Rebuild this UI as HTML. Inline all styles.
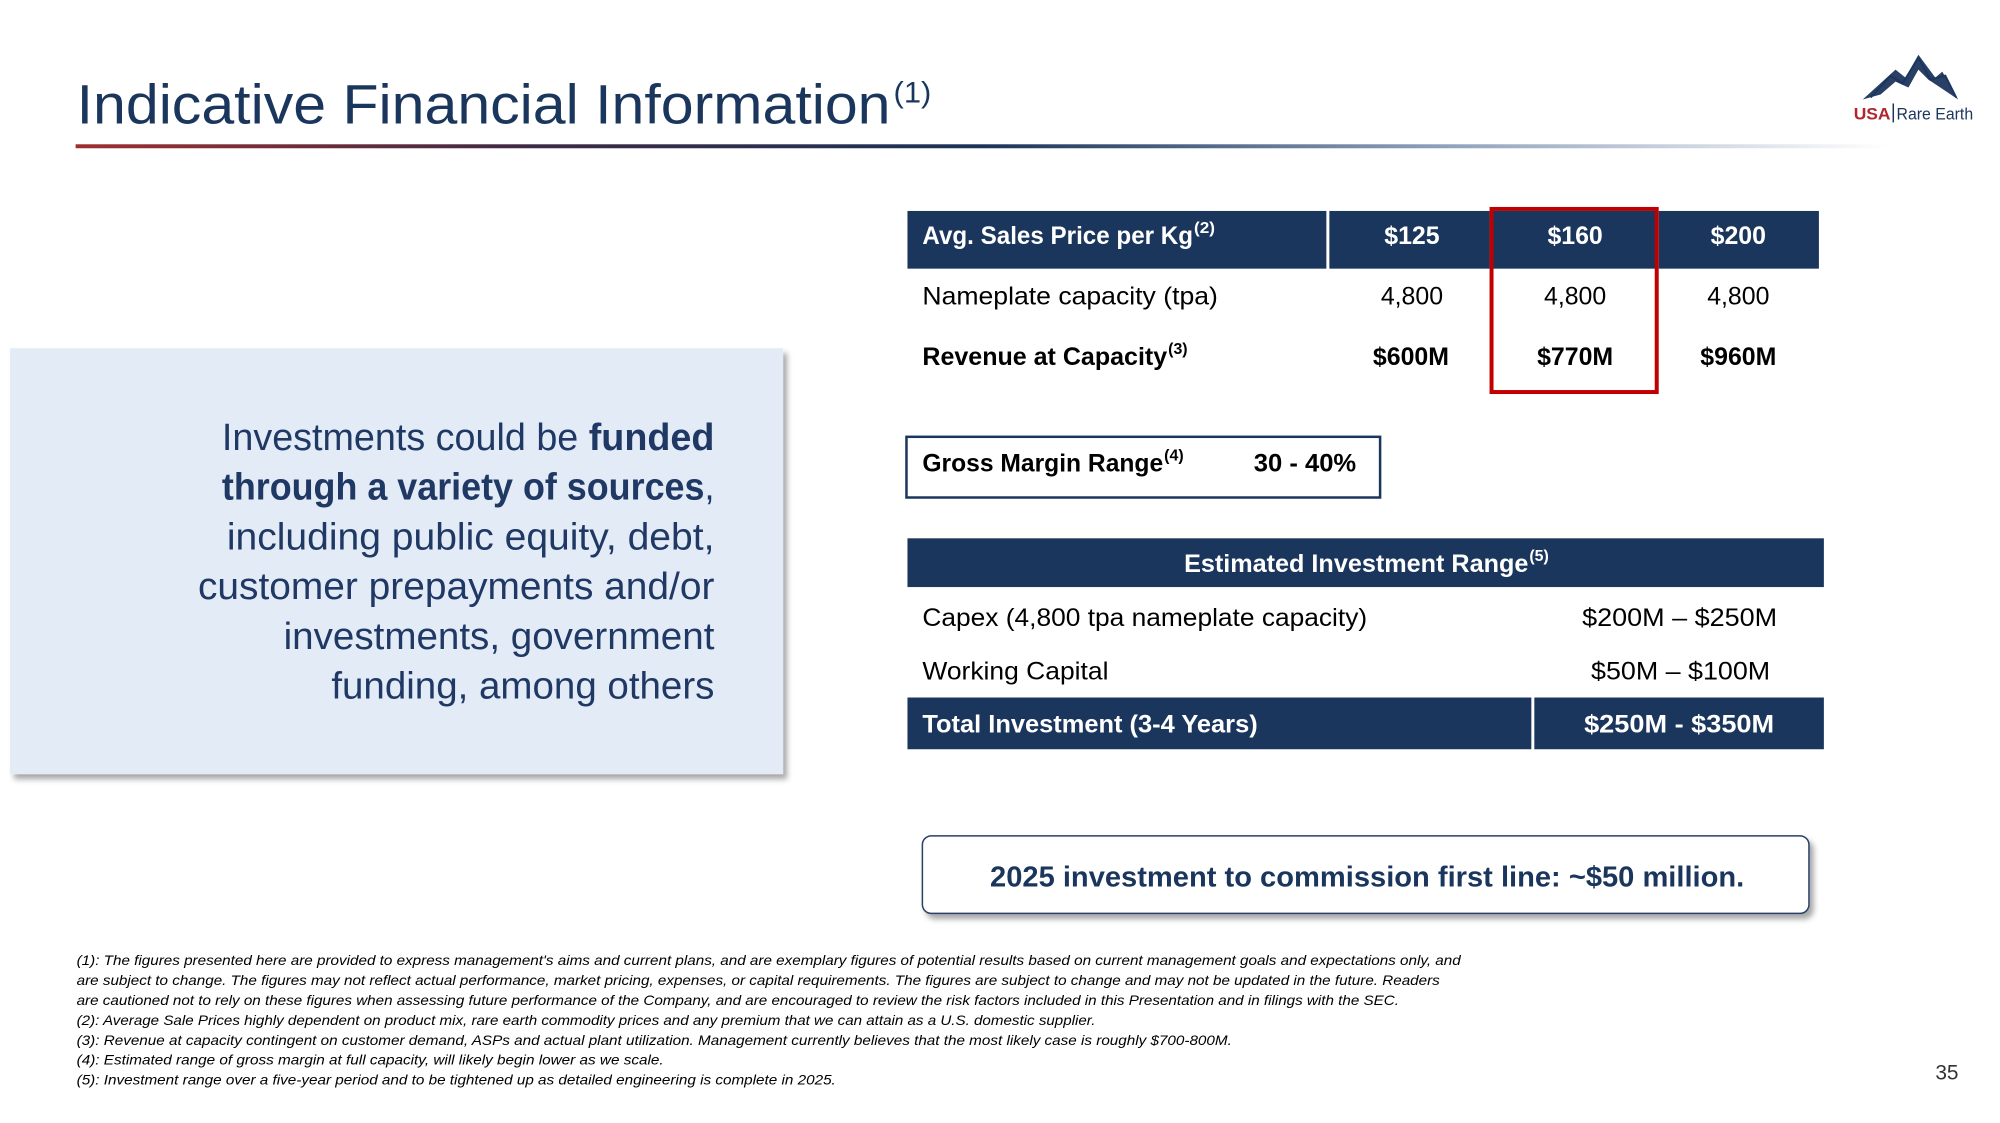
<!DOCTYPE html>
<html><head><meta charset="utf-8">
<style>
html,body{margin:0;padding:0;background:#fff;}
svg{display:block;font-family:"Liberation Sans",sans-serif;}
</style></head>
<body>
<svg width="2000" height="1123" viewBox="0 0 2010 1128.6" preserveAspectRatio="xMinYMin meet" xmlns="http://www.w3.org/2000/svg">
<defs>
<linearGradient id="rule" x1="0" x2="1" y1="0" y2="0">
<stop offset="0" stop-color="#9e2f30"/>
<stop offset="0.25" stop-color="#3d2a45"/>
<stop offset="0.5" stop-color="#1b3358"/>
<stop offset="0.75" stop-color="#8c9fba"/>
<stop offset="1" stop-color="#ffffff"/>
</linearGradient>
<filter id="sh" x="-5%" y="-5%" width="115%" height="120%"><feDropShadow dx="4" dy="5" stdDeviation="3" flood-color="#000" flood-opacity="0.35"/></filter>
</defs>

<text x="77" y="124" font-size="56" fill="#1b365d" textLength="818" lengthAdjust="spacingAndGlyphs">Indicative Financial Information</text>
<text x="898" y="103" font-size="30" fill="#1b365d" textLength="38" lengthAdjust="spacingAndGlyphs">(1)</text>
<rect x="76" y="145" width="1821" height="4" fill="url(#rule)"/>

<g>
<polygon points="1872,100 1905,70 1915,78 1928,55 1945,78 1952,72 1968,100 1950,88 1938,80 1928,70 1918,88 1905,82 1890,95" fill="#2a3f66"/>
<polyline points="1880,98 1900,76 1912,84 1928,58 1940,80 1955,76 1966,98" fill="none" stroke="#1b365d" stroke-width="2"/>
<text x="1863" y="120" font-size="17" font-weight="bold" fill="#b0262b" textLength="37" lengthAdjust="spacingAndGlyphs">USA</text>
<rect x="1902" y="104" width="1.5" height="19" fill="#1b365d"/>
<text x="1906" y="120" font-size="17" fill="#1b365d" textLength="77" lengthAdjust="spacingAndGlyphs">Rare Earth</text>
</g>

<g>
<rect x="10" y="350" width="777" height="428" fill="#e3ebf7" filter="url(#sh)"/>
<g font-size="38" fill="#1f3864" text-anchor="end">
<text x="718" y="452" textLength="495" lengthAdjust="spacingAndGlyphs">Investments could be <tspan font-weight="bold">funded</tspan></text>
<text x="718" y="502" textLength="495" lengthAdjust="spacingAndGlyphs"><tspan font-weight="bold">through a variety of sources</tspan>,</text>
<text x="718" y="552" textLength="490" lengthAdjust="spacingAndGlyphs">including public equity, debt,</text>
<text x="718" y="602" textLength="519" lengthAdjust="spacingAndGlyphs">customer prepayments and/or</text>
<text x="718" y="652" textLength="433" lengthAdjust="spacingAndGlyphs">investments, government</text>
<text x="718" y="702" textLength="385" lengthAdjust="spacingAndGlyphs">funding, among others</text>
</g>
</g>

<g>
<rect x="912" y="212" width="421" height="58" fill="#1b365d"/>
<rect x="1336" y="212" width="161" height="58" fill="#1b365d"/>
<rect x="1500" y="212" width="164" height="58" fill="#1b365d"/>
<rect x="1667" y="212" width="161" height="58" fill="#1b365d"/>
<g font-size="25" font-weight="bold" fill="#fff">
<text x="927" y="245" textLength="272" lengthAdjust="spacingAndGlyphs">Avg. Sales Price per Kg</text>
<text x="1200" y="234" font-size="16" textLength="21" lengthAdjust="spacingAndGlyphs">(2)</text>
<g text-anchor="middle">
<text x="1419" y="245">$125</text><text x="1583" y="245">$160</text><text x="1747" y="245">$200</text>
</g>
</g>
<g font-size="25" fill="#000">
<text x="927" y="306" textLength="297" lengthAdjust="spacingAndGlyphs">Nameplate capacity (tpa)</text>
<g text-anchor="middle"><text x="1419" y="306">4,800</text><text x="1583" y="306">4,800</text><text x="1747" y="306">4,800</text></g>
<text x="927" y="367" font-weight="bold" textLength="246" lengthAdjust="spacingAndGlyphs">Revenue at Capacity</text>
<text x="1174" y="356" font-size="16" font-weight="bold">(3)</text>
<g text-anchor="middle" font-weight="bold"><text x="1418" y="367">$600M</text><text x="1583" y="367">$770M</text><text x="1747" y="367">$960M</text></g>
</g>
<rect x="1499" y="210" width="166" height="184" fill="none" stroke="#c00000" stroke-width="4"/>
</g>

<g>
<rect x="911" y="439" width="476" height="61" fill="#fff" stroke="#1b365d" stroke-width="2.5"/>
<text x="927" y="474" font-size="25" font-weight="bold" textLength="242" lengthAdjust="spacingAndGlyphs">Gross Margin Range</text>
<text x="1170" y="463" font-size="16" font-weight="bold">(4)</text>
<text x="1260" y="474" font-size="25" font-weight="bold" textLength="103" lengthAdjust="spacingAndGlyphs">30 - 40%</text>
</g>

<g>
<rect x="912" y="541" width="921" height="49" fill="#1b365d"/>
<text x="1190" y="575" font-size="25" font-weight="bold" fill="#fff" textLength="346" lengthAdjust="spacingAndGlyphs">Estimated Investment Range</text>
<text x="1537" y="564" font-size="16" font-weight="bold" fill="#fff">(5)</text>
<g font-size="25" fill="#000">
<text x="927" y="629" textLength="447" lengthAdjust="spacingAndGlyphs">Capex (4,800 tpa nameplate capacity)</text>
<text x="1590" y="629" textLength="196" lengthAdjust="spacingAndGlyphs">$200M – $250M</text>
<text x="927" y="683" textLength="187" lengthAdjust="spacingAndGlyphs">Working Capital</text>
<text x="1599" y="683" textLength="180" lengthAdjust="spacingAndGlyphs">$50M – $100M</text>
</g>
<rect x="912" y="701" width="627" height="52" fill="#1b365d"/>
<rect x="1542" y="701" width="291" height="52" fill="#1b365d"/>
<text x="927" y="736" font-size="25" font-weight="bold" fill="#fff" textLength="337" lengthAdjust="spacingAndGlyphs">Total Investment (3-4 Years)</text>
<text x="1592" y="736" font-size="25" font-weight="bold" fill="#fff" textLength="191" lengthAdjust="spacingAndGlyphs">$250M - $350M</text>
</g>

<g>
<rect x="927" y="840" width="891" height="78" rx="9" fill="#fff" stroke="#2a3f66" stroke-width="1.5" filter="url(#sh)"/>
<text x="995" y="891" font-size="29" font-weight="bold" fill="#1b365d" textLength="758" lengthAdjust="spacingAndGlyphs">2025 investment to commission first line: ~$50 million.</text>
</g>

<g font-size="14" font-style="italic" fill="#000">
<text x="77" y="970" textLength="1391" lengthAdjust="spacingAndGlyphs">(1): The figures presented here are provided to express management's aims and current plans, and are exemplary figures of potential results based on current management goals and expectations only, and</text>
<text x="77" y="990" textLength="1370" lengthAdjust="spacingAndGlyphs">are subject to change. The figures may not reflect actual performance, market pricing, expenses, or capital requirements. The figures are subject to change and may not be updated in the future. Readers</text>
<text x="77" y="1010" textLength="1329" lengthAdjust="spacingAndGlyphs">are cautioned not to rely on these figures when assessing future performance of the Company, and are encouraged to review the risk factors included in this Presentation and in filings with the SEC.</text>
<text x="77" y="1030" textLength="1024" lengthAdjust="spacingAndGlyphs">(2): Average Sale Prices highly dependent on product mix, rare earth commodity prices and any premium that we can attain as a U.S. domestic supplier.</text>
<text x="77" y="1050" textLength="1161" lengthAdjust="spacingAndGlyphs">(3): Revenue at capacity contingent on customer demand, ASPs and actual plant utilization. Management currently believes that the most likely case is roughly $700-800M.</text>
<text x="77" y="1070" textLength="590" lengthAdjust="spacingAndGlyphs">(4): Estimated range of gross margin at full capacity, will likely begin lower as we scale.</text>
<text x="77" y="1090" textLength="763" lengthAdjust="spacingAndGlyphs">(5): Investment range over a five-year period and to be tightened up as detailed engineering is complete in 2025.</text>
</g>
<text x="1945" y="1085" font-size="21" fill="#333">35</text>
</svg>
</body></html>
